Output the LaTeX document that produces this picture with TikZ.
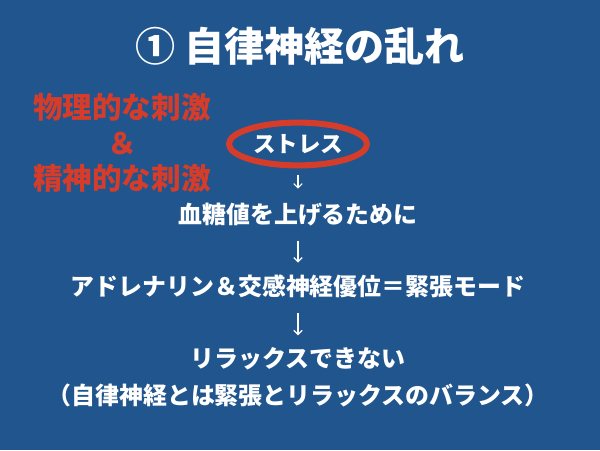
\documentclass[tikz,border=0pt]{standalone}
\usepackage{fontspec}
\newfontfamily\jpfont{Noto Sans CJK JP}
\usetikzlibrary{shapes.geometric, arrows.meta, positioning}
\definecolor{slidebg}{RGB}{33,85,142}
\definecolor{slidered}{RGB}{214,60,42}
\tikzset{
    heading/.style={
        text=white, inner sep=0pt, outer sep=0pt,
        font=\jpfont\bfseries\fontsize{28.5}{30}\selectfont
    },
    cause/.style={
        text=slidered, inner sep=0pt, outer sep=0pt, align=center,
        font=\jpfont\bfseries\fontsize{21}{25.2}\selectfont
    },
    ring/.style={
        ellipse, draw=slidered, line width=4.3pt, outer sep=0pt,
        minimum width=3.45cm, minimum height=1.07cm, inner sep=0pt,
        text=white, font=\jpfont\bfseries\fontsize{16}{18}\selectfont
    },
    step_text/.style={
        text=white, inner sep=0pt, outer sep=0pt,
        text height=13.6pt, text depth=3.4pt,
        font=\jpfont\bfseries\fontsize{17}{20}\selectfont
    },
    flow/.style={draw=white, line width=0.8pt, -{Straight Barb[length=3pt,width=6pt]}}
}
\begin{document}
\begin{tikzpicture}[x=0.025cm, y=-0.025cm]

% Background
\fill[slidebg] (0,0) rectangle (600,450);

% Title
\node[heading] (title) at (300,46) {① 自律神経の乱れ};

% Causes (left side)
\node[cause] (causes) at (122,143) {物理的な刺激\\＆\\精神的な刺激};

% Stress ring
\node[ring] (stress) at (298,144) {ストレス};

% Chain of effects
\node[step_text, below=0.98cm of stress] (blood_sugar) {血糖値を上げるために};
\node[step_text, below=1.2cm of blood_sugar] (adrenaline) {アドレナリン＆交感神経優位＝緊張モード};
\node[step_text, below=1.2cm of adrenaline] (no_relax) {リラックスできない};
\node[step_text, below=0.33cm of no_relax] (balance) {（自律神経とは緊張とリラックスのバランス）};

% Arrows
\draw[flow, shorten <=0.25cm, shorten >=0.4cm] (stress) -- (blood_sugar);
\draw[flow, shorten <=0.3cm, shorten >=0.35cm] (blood_sugar) -- (adrenaline);
\draw[flow, shorten <=0.32cm, shorten >=0.33cm] (adrenaline) -- (no_relax);

\end{tikzpicture}
\end{document}
